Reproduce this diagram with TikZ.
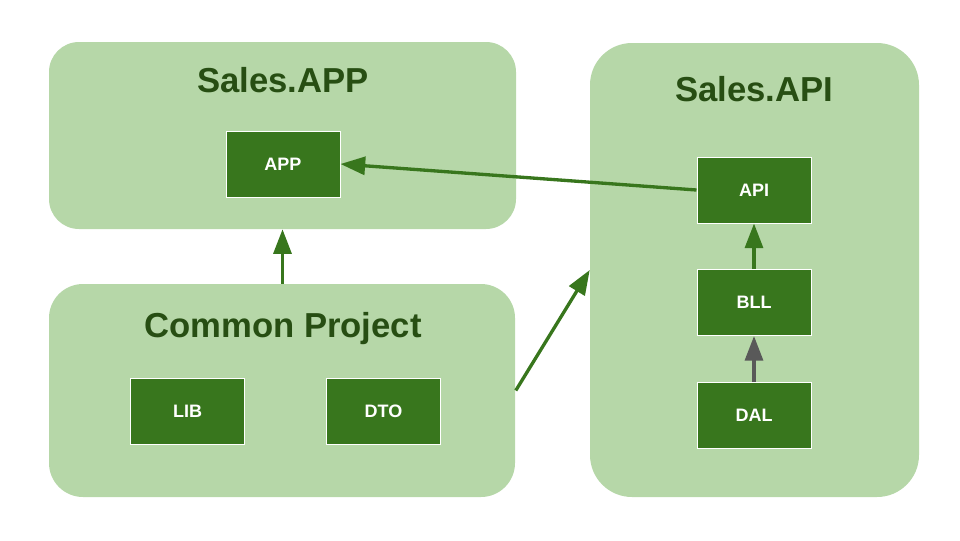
\documentclass[tikz,border=0pt]{standalone}
\usepackage{fontspec}
\setmainfont{Liberation Sans}
\usetikzlibrary{arrows.meta}
\definecolor{lightg}{HTML}{B6D7A8}
\definecolor{darkg}{HTML}{38761D}
\definecolor{titleg}{HTML}{274E13}
\definecolor{grayarr}{HTML}{595959}
\begin{document}
\begin{tikzpicture}[x=0.75pt,y=-0.75pt,
  container/.style={fill=lightg,draw=none,inner sep=0pt},
  comp/.style={fill=darkg,draw=white,line width=0.75pt,minimum width=114*0.75pt,minimum height=66*0.75pt,inner sep=0pt,text=white,font=\fontsize{13.5pt}{16pt}\selectfont\bfseries},
  ttl/.style={anchor=base,text=titleg,font=\fontsize{26pt}{30pt}\selectfont\bfseries,inner sep=0pt},
  arr/.style={line width=2.5pt,darkg,-{Triangle[length=18.5pt,width=13.5pt]}}]
\useasboundingbox (0,0) rectangle (960,540);
% containers
\draw[container,rounded corners=30*0.75pt] (49,42) rectangle (516,229);
\node[minimum width=467*0.75pt,minimum height=187*0.75pt,inner sep=0pt] (salesapp) at (282.5,135.5) {};
\draw[container,rounded corners=42*0.75pt] (590,43) rectangle (919,497);
\node[minimum width=329*0.75pt,minimum height=454*0.75pt,inner sep=0pt] (salesapi) at (754.5,270) {};
\draw[container,rounded corners=34*0.75pt] (49,284) rectangle (515,497);
\node[minimum width=466*0.75pt,minimum height=213*0.75pt,inner sep=0pt] (common) at (282.5,390.5) {};
% titles
\node[ttl] (t1) at (283,92) {Sales.APP};
\node[ttl] (t2) at (754,101) {Sales.API};
\node[ttl] (t3) at (283,337) {Common Project};
% components
\node[comp] (app) at (283,164) {APP};
\node[comp] (api) at (754,190) {API};
\node[comp] (bll) at (754,302.5) {BLL};
\node[comp] (dal) at (754,415) {DAL};
\node[comp] (lib) at (187.5,411) {LIB};
\node[comp] (dto) at (383.5,411) {DTO};
% arrows
\draw[arr] (api.west) -- (app.east);
\draw[arr] (common.north) -- (salesapp.south);
\draw[arr] (common.east) -- (salesapi.west);
\draw[arr] (bll.north) -- (api.south);
\draw[arr,grayarr] (dal.north) -- (bll.south);
\end{tikzpicture}
\end{document}
